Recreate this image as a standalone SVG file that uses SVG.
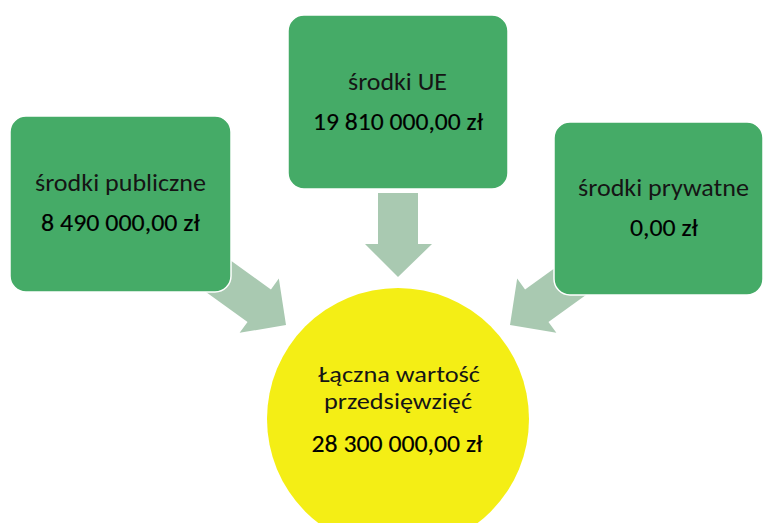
<svg xmlns="http://www.w3.org/2000/svg" width="763" height="523" viewBox="0 0 763 523">
<style>
.box{fill:#45AB67;stroke:#ffffff;stroke-width:1.5}
.arrow{fill:#A9C9B1}
.lbl{font-family:Carlito,"Lato Light","Open Sans Light",Lato,"Liberation Sans",sans-serif;font-size:24px;font-weight:300;fill:#151515;text-anchor:middle}
.num{font-family:Carlito,Lato,"Liberation Sans",sans-serif;font-size:25px;font-weight:400;fill:#000000;stroke:#000000;stroke-width:0.15;text-anchor:middle}
.sm{font-size:23px}
</style>
<defs>
<polygon id="arr" points="-92,-20 -33,-20 -33,-33.5 0,0 -33,33.5 -33,20 -92,20"/>
</defs>
<rect width="763" height="523" fill="#ffffff"/>
<g id="connectors">
<use href="#arr" class="arrow" transform="translate(286,325) rotate(35.8)"/>
<use href="#arr" class="arrow" transform="translate(510,325) rotate(144.2)"/>
<polygon class="arrow" points="378,193 418,193 418,244 432,244 398,277 365,244 378,244"/>
</g>
<g id="total">
<circle cx="398" cy="419" r="131" fill="#F4EE15"/>
<text class="lbl sm" x="399" y="382" textLength="162" lengthAdjust="spacingAndGlyphs">Łączna wartość</text>
<text class="lbl sm" x="398" y="409" textLength="148" lengthAdjust="spacingAndGlyphs">przedsięwzięć</text>
<text class="num" x="397" y="452" textLength="171" lengthAdjust="spacingAndGlyphs">28 300 000,00 zł</text>
</g>
<g id="public">
<rect class="box" x="10" y="116" width="221" height="176" rx="16"/>
<text class="lbl" x="120.5" y="191" textLength="171" lengthAdjust="spacingAndGlyphs">środki publiczne</text>
<text class="num" x="120.5" y="231" textLength="159" lengthAdjust="spacingAndGlyphs">8 490 000,00 zł</text>
</g>
<g id="eu">
<rect class="box" x="288" y="15" width="220" height="174" rx="16"/>
<text class="lbl" x="397.5" y="90" textLength="99" lengthAdjust="spacingAndGlyphs">środki UE</text>
<text class="num" x="398" y="130" textLength="170" lengthAdjust="spacingAndGlyphs">19 810 000,00 zł</text>
</g>
<g id="private">
<rect class="box" x="554" y="122" width="209" height="173" rx="16"/>
<text class="lbl" x="663.5" y="196" textLength="171" lengthAdjust="spacingAndGlyphs">środki prywatne</text>
<text class="num" x="664" y="236" textLength="68" lengthAdjust="spacingAndGlyphs">0,00 zł</text>
</g>
</svg>
